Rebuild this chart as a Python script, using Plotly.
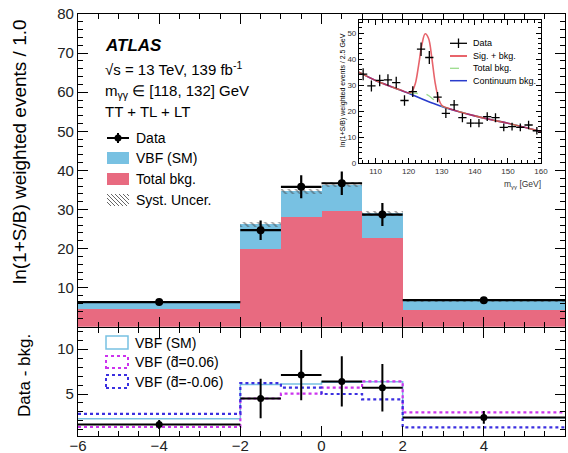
import plotly.graph_objects as go

# ---------------- binned optimal-observable distribution ----------------
bin_edges = [-6, -2, -1, 0, 1, 2, 6]
bin_center = [-4, -1.5, -0.5, 0.5, 1.5, 4]
bin_halfwidth = [2, 0.5, 0.5, 0.5, 0.5, 2]

total_bkg = [4.6, 19.8, 28.1, 29.6, 22.6, 4.2]
vbf_sm = [1.7, 6.4, 6.5, 6.7, 6.4, 2.5]
syst_unc = [0.3, 0.6, 0.6, 0.6, 0.6, 0.3]
data = [6.3, 24.7, 35.8, 36.7, 28.7, 6.8]
data_err = [0.5, 2.5, 2.95, 3.0, 2.95, 0.5]

# ---------------- data minus background ----------------
diff = [1.6, 4.5, 7.1, 6.4, 5.7, 2.4]
diff_err = [0.5, 2.2, 2.8, 2.8, 2.65, 0.7]
vbf_sm_diff = [2.25, 6.05, 6.1, 6.3, 6.35, 2.35]
vbf_dpos = [1.33, 4.5, 5.05, 5.7, 6.4, 2.95]
vbf_dneg = [2.8, 6.2, 5.7, 5.0, 4.4, 1.3]

# ---------------- diphoton mass spectrum (inset) ----------------
myy = [106.25, 108.75, 111.25, 113.75, 116.25, 118.75, 121.25, 123.75,
       126.25, 128.75, 131.25, 133.75, 136.25, 138.75, 141.25, 143.75,
       146.25, 148.75, 151.25, 153.75, 156.25, 158.75]
myy_counts = [34.2, 29.7, 31.8, 32.0, 31.0, 24.1, 27.5, 43.8, 40.6, 25.4, 19.2,
              22.4, 17.5, 15.4, 15.4, 17.9, 17.5, 13.8, 14.1, 13.8, 14.7, 12.5]
myy_err = [2.3, 2.1, 2.2, 2.2, 2.2, 2.0, 2.1, 2.6, 2.5, 2.0, 1.8,
           1.9, 1.7, 1.6, 1.6, 1.7, 1.7, 1.5, 1.5, 1.5, 1.6, 1.4]

cont_mass = [105, 110, 115, 120, 125, 130, 135, 140, 145, 150, 155, 160]
cont_bkg = [35.0, 31.8, 29.3, 26.9, 24.2, 21.8, 19.9, 18.2, 16.7, 15.4, 13.8, 12.2]

tot_mass = [105, 110, 115, 118, 120, 122, 124, 125, 126, 128, 130, 132,
            135, 140, 145, 150, 155, 160]
tot_bkg = [35.0, 31.8, 29.3, 27.9, 27.0, 26.9, 26.6, 26.6, 26.0, 24.0, 22.0, 21.0,
           19.9, 18.2, 16.7, 15.4, 13.8, 12.2]

sb_mass = [105, 110, 115, 118, 120, 121, 122, 123, 124, 125, 126, 127, 128,
           129, 130, 132, 135, 140, 145, 150, 155, 160]
sig_plus_bkg = [35.0, 31.8, 29.3, 27.9, 27.0, 27.6, 30.5, 37.5, 45.5, 49.7, 48.0,
                40.5, 31.0, 25.0, 22.3, 21.1, 19.9, 18.2, 16.7, 15.4, 13.8, 12.2]

C_BKG = "#e86a80"
C_VBF = "#78c1e2"
C_POS = "#cc33ee"
C_NEG = "#3b2fe0"
FONT = "Liberation Sans"

# page geometry (margins in px) and helpers for paper coordinates
W, H = 568, 453
ML, MR, MT, MB = 78, 3, 14, 17
def px(x):
    return (x - ML) / (W - ML - MR)
def py(y):
    return (H - MB - y) / (H - MT - MB)

fig = go.Figure()

# ---- main panel: stacked background + VBF ----
fig.add_trace(go.Bar(x=bin_center, y=total_bkg, width=[2 * w for w in bin_halfwidth],
                     marker=dict(color=C_BKG, line=dict(width=0)),
                     xaxis="x", yaxis="y", showlegend=False))
fig.add_trace(go.Bar(x=bin_center, y=vbf_sm, base=total_bkg,
                     width=[2 * w for w in bin_halfwidth],
                     marker=dict(color=C_VBF, line=dict(width=0)),
                     xaxis="x", yaxis="y", showlegend=False))
stack_top = [b + s for b, s in zip(total_bkg, vbf_sm)]
fig.add_trace(go.Bar(x=bin_center, y=[2 * u for u in syst_unc],
                     base=[t - u for t, u in zip(stack_top, syst_unc)],
                     width=[2 * w for w in bin_halfwidth],
                     marker=dict(color="rgba(0,0,0,0)", line=dict(width=0),
                                 pattern=dict(shape="\\", fgcolor="#444444",
                                              bgcolor="rgba(0,0,0,0)", size=5,
                                              solidity=0.35, fillmode="overlay")),
                     xaxis="x", yaxis="y", showlegend=False))
fig.add_trace(go.Scatter(x=bin_center, y=data, mode="markers",
                         marker=dict(color="black", size=8),
                         error_x=dict(type="data", array=bin_halfwidth, color="black",
                                      thickness=2.2, width=0),
                         error_y=dict(type="data", array=data_err, color="black",
                                      thickness=2.2, width=0),
                         xaxis="x", yaxis="y", showlegend=False))

# ---- lower panel: data - bkg ----
def steps(vals):
    return vals + [vals[-1]]

fig.add_trace(go.Scatter(x=bin_edges, y=steps(vbf_sm_diff), mode="lines", line_shape="hv",
                         line=dict(color=C_VBF, width=1.5),
                         xaxis="x2", yaxis="y2", showlegend=False))
fig.add_trace(go.Scatter(x=bin_edges, y=steps(vbf_dpos), mode="lines", line_shape="hv",
                         line=dict(color=C_POS, width=2.2, dash="dot"),
                         xaxis="x2", yaxis="y2", showlegend=False))
fig.add_trace(go.Scatter(x=bin_edges, y=steps(vbf_dneg), mode="lines", line_shape="hv",
                         line=dict(color=C_NEG, width=2.2, dash="dot"),
                         xaxis="x2", yaxis="y2", showlegend=False))
fig.add_trace(go.Scatter(x=bin_center, y=diff, mode="markers",
                         marker=dict(color="black", size=7),
                         error_x=dict(type="data", array=bin_halfwidth, color="black",
                                      thickness=2, width=0),
                         error_y=dict(type="data", array=diff_err, color="black",
                                      thickness=2, width=0),
                         xaxis="x2", yaxis="y2", showlegend=False))

# ---- inset: m_yy spectrum ----
fig.add_trace(go.Scatter(x=cont_mass, y=cont_bkg, mode="lines", line_shape="spline",
                         line=dict(color="#2a3ccc", width=1.6),
                         xaxis="x3", yaxis="y3", showlegend=False))
fig.add_trace(go.Scatter(x=tot_mass, y=tot_bkg, mode="lines", line_shape="spline",
                         line=dict(color="#9bdc8c", width=1.3, dash="dash"),
                         xaxis="x3", yaxis="y3", showlegend=False))
fig.add_trace(go.Scatter(x=sb_mass, y=sig_plus_bkg, mode="lines", line_shape="spline",
                         line=dict(color="#e0303a", width=1.6), opacity=0.75,
                         xaxis="x3", yaxis="y3", showlegend=False))
fig.add_trace(go.Scatter(x=myy, y=myy_counts, mode="markers",
                         marker=dict(color="black", size=1),
                         error_x=dict(type="constant", value=1.25, color="black",
                                      thickness=1.3, width=0),
                         error_y=dict(type="data", array=myy_err, color="black",
                                      thickness=1.3, width=0),
                         xaxis="x3", yaxis="y3", showlegend=False))

tickfont = dict(family=FONT, size=15, color="#222")
axis_common = dict(showline=True, linecolor="black", linewidth=1.3, mirror="allticks",
                   ticks="inside", showgrid=False, zeroline=False, tickcolor="black",
                   tickwidth=1.2, tickfont=tickfont, automargin=False)

main_bottom = 0.259
lower_top = 0.257

fig.update_layout(
    width=W, height=H,
    margin=dict(l=ML, r=MR, t=MT, b=MB, autoexpand=False),
    paper_bgcolor="white", plot_bgcolor="white",
    barmode="overlay", bargap=0,
    xaxis=dict(domain=[0, 1], range=[-6, 6], anchor="y", showticklabels=False,
               dtick=2, tick0=-6, ticklen=10,
               minor=dict(dtick=0.5, ticklen=5, ticks="inside", tickcolor="black"),
               **axis_common),
    yaxis=dict(domain=[main_bottom, 1], range=[0.01, 80], anchor="x",
               dtick=10, tick0=0, ticklen=10,
               minor=dict(dtick=2, ticklen=5, ticks="inside", tickcolor="black"),
               **axis_common),
    xaxis2=dict(domain=[0, 1], range=[-6, 6], anchor="y2", matches="x",
                dtick=2, tick0=-6, ticklen=10, ticklabelstandoff=-4,
                minor=dict(dtick=0.5, ticklen=5, ticks="inside", tickcolor="black"),
                **axis_common),
    yaxis2=dict(domain=[0, lower_top], range=[0.33, 12.39], anchor="x2",
                dtick=5, tick0=0, ticklen=10,
                minor=dict(dtick=1, ticklen=5, ticks="inside", tickcolor="black"),
                **axis_common),
    xaxis3=dict(domain=[px(359), px(541)], range=[105, 160], anchor="y3",
                dtick=10, tick0=100, ticklen=5,
                minor=dict(dtick=2, ticklen=3, ticks="inside", tickcolor="black"),
                showline=True, linecolor="black", linewidth=1.2, mirror="allticks",
                ticks="inside", showgrid=False, zeroline=False, tickcolor="black",
                automargin=False,
                tickfont=dict(family=FONT, size=8, color="#333")),
    yaxis3=dict(domain=[py(163.3), py(20)], range=[0, 55], anchor="x3",
                dtick=10, tick0=0, ticklen=5,
                minor=dict(dtick=2, ticklen=3, ticks="inside", tickcolor="black"),
                showline=True, linecolor="black", linewidth=1.2, mirror="allticks",
                ticks="inside", showgrid=False, zeroline=False, tickcolor="black",
                automargin=False,
                tickfont=dict(family=FONT, size=8, color="#333")),
)

ann = []
shapes = []

def text(x, y, s, size, anchor="left", angle=0, color="black"):
    ann.append(dict(x=px(x), y=py(y), xref="paper", yref="paper", text=s,
                    showarrow=False, xanchor=anchor, yanchor="middle", textangle=angle,
                    font=dict(family=FONT, size=size, color=color)))

def rect(x0, y0, x1, y1, fill="rgba(0,0,0,0)", line=None):
    shapes.append(dict(type="rect", xref="paper", yref="paper",
                       x0=px(x0), x1=px(x1), y0=py(y1), y1=py(y0),
                       fillcolor=fill, line=line or dict(width=0)))

def seg(x0, y0, x1, y1, color="black", width=2, dash="solid"):
    shapes.append(dict(type="line", xref="paper", yref="paper",
                       x0=px(x0), x1=px(x1), y0=py(y0), y1=py(y1),
                       line=dict(color=color, width=width, dash=dash)))

# axis titles
text(19, 152, "ln(1+S/B) weighted events / 1.0", 19, anchor="center", angle=-90)
text(24, 376, "Data - bkg.", 17, anchor="center", angle=-90)

# analysis labels
text(103, 45, "<b><i>ATLAS</i></b>", 17)
text(103, 69, "√s = 13 TeV, 139 fb<sup>-1</sup>", 15)
text(103, 91, "m<sub>γγ</sub> ∈ [118, 132] GeV", 15)
text(103, 112, "TT + TL + LT", 15)

# main legend
seg(107, 138, 129, 138, width=2)
seg(118, 133, 118, 143, width=2)
shapes.append(dict(type="circle", xref="paper", yref="paper",
                   x0=px(114.5), x1=px(121.5), y0=py(141.5), y1=py(134.5),
                   fillcolor="black", line=dict(width=0)))
text(134, 138, "Data", 14)
rect(107, 152, 129, 164, fill=C_VBF)
text(134, 158, "VBF (SM)", 14)
rect(107, 173, 129, 185, fill=C_BKG)
text(134, 179, "Total bkg.", 14)
for k in range(0, 22, 4):
    x_start, y_start = 107 + k, 194
    length = min(12, 129 - x_start)
    seg(x_start, y_start, x_start + length, y_start + length, color="#666", width=1)
for k in range(4, 12, 4):
    seg(107, 194 + k, 107 + 12 - k, 206, color="#666", width=1)
text(134, 200, "Syst. Uncer.", 14)

# lower-panel legend
rect(106, 336, 128, 349, line=dict(color=C_VBF, width=1.5))
text(133, 342.5, "VBF (SM)", 14)
rect(106, 356, 128, 368, line=dict(color=C_POS, width=2, dash="dot"))
text(133, 362, "VBF (d̃=0.06)", 14)
rect(106, 375, 128, 388, line=dict(color=C_NEG, width=2, dash="dot"))
text(133, 381.5, "VBF (d̃=-0.06)", 14)

# inset legend
seg(450, 43.3, 467, 43.3, width=1.3)
seg(458.5, 38.5, 458.5, 48, width=1.3)
text(471, 43.3, "Data", 9)
seg(450, 56, 467, 56, color="#e0303a", width=1.5)
text(471, 56, "Sig. + bkg.", 9)
seg(450, 68.3, 467, 68.3, color="#9bdc8c", width=1.3, dash="dash")
text(471, 68.3, "Total bkg.", 9)
seg(450, 80.7, 467, 80.7, color="#2a3ccc", width=1.5)
text(471, 80.7, "Continuum bkg.", 9)

# inset axis titles
text(343, 90, "ln(1+S/B) weighted events / 2.5 GeV", 7, anchor="center", angle=-90)
text(543, 184, "m<sub>γγ</sub> [GeV]", 8.5, anchor="right", color="#333")

fig.update_layout(annotations=ann, shapes=shapes)
fig.write_html("out.html")
